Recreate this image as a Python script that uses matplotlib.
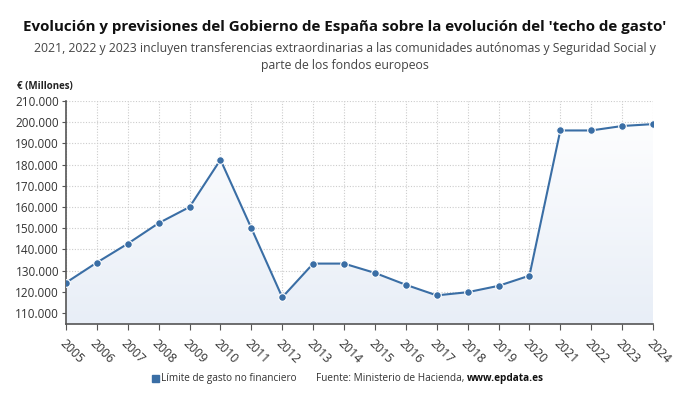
import numpy as np
import matplotlib.pyplot as plt
from matplotlib.colors import LinearSegmentedColormap
from matplotlib.patches import Rectangle

plt.rcParams['font.family'] = ['Open Sans', 'DejaVu Sans']

# Límite de gasto no financiero (millones de euros)
years = list(range(2005, 2025))
limite = [124.3, 133.8, 142.7, 152.4, 160.0, 182.3, 150.0, 117.4, 133.3, 133.3,
          128.9, 123.3, 118.3, 119.8, 122.8, 127.6, 196.1, 196.1, 198.2, 199.1]
limite = [v * 1000 for v in limite]
yticks = list(range(110000, 210001, 10000))

line_color = '#3a6ea5'

fig = plt.figure(figsize=(6.9, 4.05), dpi=100)
ax = fig.add_axes([66 / 690, 1 - 324 / 405, (653 - 66) / 690, (324 - 101) / 405])

ymin, ymax = 104800, 210000

# gradient fill under the line
grad = np.linspace(0, 1, 256).reshape(-1, 1)
cmap = LinearSegmentedColormap.from_list('g', ['#e8eef7', '#ffffff'])
img = ax.imshow(grad, extent=[years[0], years[-1], ymin, ymax], aspect='auto',
                cmap=cmap, origin='lower', zorder=1)
poly = ax.fill_between(years, limite, ymin, color='none', zorder=1)
img.set_clip_path(poly.get_paths()[0], transform=ax.transData)

ax.plot(years, limite, color=line_color, lw=1.5, zorder=3)
ax.plot(years, limite, 'o', color=line_color, ms=5.5, mec='white', mew=0.8, zorder=4)

ax.set_xlim(years[0], years[-1])
ax.set_ylim(ymin, ymax)
ax.set_yticks(yticks)
ax.set_yticklabels([f"{v // 1000}.000" for v in yticks], fontsize=8.5, color='#333333')
ax.set_xticks(years)
ax.set_xticklabels([str(y) for y in years], rotation=-45, ha='left', va='top',
                   fontsize=8.8, color='#333333', rotation_mode='anchor')
ax.tick_params(axis='x', length=4, color='#555555', pad=5)
ax.tick_params(axis='y', length=3, color='#555555', pad=2)

ax.grid(True, linestyle=(0, (1, 1.5)), color='#cccccc', lw=0.8, zorder=0)
ax.set_axisbelow(True)
for s in ['top', 'right']:
    ax.spines[s].set_visible(False)
for s in ['left', 'bottom']:
    ax.spines[s].set_color('#555555')
    ax.spines[s].set_linewidth(1.2)

fig.text(0.5, 1 - 27 / 405, "Evolución y previsiones del Gobierno de España sobre la evolución del 'techo de gasto'",
         ha='center', va='center', fontsize=10.9, fontweight='bold', color='#111111')
fig.text(0.5, 1 - 57 / 405,
         "2021, 2022 y 2023 incluyen transferencias extraordinarias a las comunidades autónomas y Seguridad Social y\nparte de los fondos europeos",
         ha='center', va='center', fontsize=8.8, color='#444444', linespacing=1.45)
fig.text(17 / 690, 1 - 87 / 405, "€ (Millones)", ha='left', va='center',
         fontsize=7, fontweight='bold', color='#222222')

# legend and source
fig.patches.append(Rectangle((152 / 690, 1 - 381.5 / 405), 6.5 / 690, 6.5 / 405,
                             transform=fig.transFigure, color=line_color))
fig.text(161 / 690, 1 - 378.5 / 405, "Límite de gasto no financiero", ha='left', va='center',
         fontsize=7.2, color='#333333')
t = fig.text(316 / 690, 1 - 378.5 / 405, "Fuente: Ministerio de Hacienda, ", ha='left', va='center',
             fontsize=7.2, color='#333333')
fig.canvas.draw()
bb = t.get_window_extent()
fig.text(bb.x1 / fig.bbox.width, 1 - 378.5 / 405, "www.epdata.es", ha='left', va='center',
         fontsize=7.2, fontweight='bold', color='#111111')

fig.savefig('out.png', dpi=100)
